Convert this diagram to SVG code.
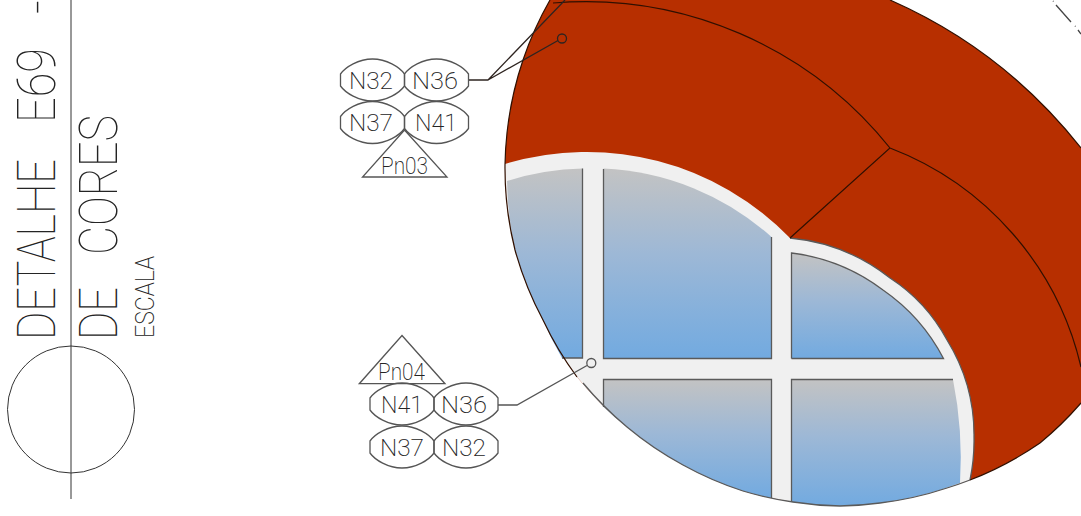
<svg xmlns="http://www.w3.org/2000/svg" width="1081" height="516" viewBox="0 0 1081 516">
<style>
.cad{font-family:"Roboto","Liberation Sans",sans-serif;font-weight:100;fill:#222;opacity:.99}
.tag{font-size:24px;text-anchor:middle;font-weight:200}
.ln{fill:none;stroke:#555;stroke-width:1.3}
.lead{fill:none;stroke:#2e2420;stroke-width:1.3}
.thin{fill:none;stroke:#333;stroke-width:1}
.dk{fill:none;stroke:#301000;stroke-width:1.2}
.pane{fill:url(#glass);stroke:none}
.edge{fill:none;stroke:#5a5a5a;stroke-width:1.3}
</style>
<defs>
<linearGradient id="glass" x1="0" y1="0" x2="0" y2="1"><stop offset="0" stop-color="#c3c3c3"/><stop offset="0.45" stop-color="#9db8d6"/><stop offset="1" stop-color="#72aae0"/></linearGradient>
<path id="lens" class="ln" d="M-32,-6C-27,-13 -14,-21 0,-21C14,-21 27,-13 32,-6L32,6C27,13 14,21 0,21C-14,21 -27,13 -32,6Z"/>
</defs>
<rect width="1081" height="516" fill="#fff"/>
<g id="title">
<line class="thin" x1="71" y1="0" x2="71" y2="499" stroke="#555"/>
<circle class="thin" cx="71" cy="409.500" r="63.500"/>
<text class="cad" transform="translate(55,340) rotate(-90)" font-size="53"><tspan x="0" textLength="181" lengthAdjust="spacingAndGlyphs">DETALHE</tspan><tspan x="217" textLength="75" lengthAdjust="spacingAndGlyphs">E69</tspan><tspan x="326" textLength="14" lengthAdjust="spacingAndGlyphs">-</tspan></text>
<text class="cad" transform="translate(117,340) rotate(-90)" font-size="53"><tspan x="0" textLength="53" lengthAdjust="spacingAndGlyphs">DE</tspan><tspan x="85" textLength="140" lengthAdjust="spacingAndGlyphs">CORES</tspan></text>
<text class="cad" style="font-weight:200" transform="translate(154,338) rotate(-90)" font-size="25" textLength="82" lengthAdjust="spacingAndGlyphs">ESCALA</text>
</g>
<g id="detail">
<path id="roof" fill="#b72f00" d="M550,0A340,340 0 0 0 523,60A340,340 0 0 0 507,133A340,340 0 0 0 505,165A340,340 0 0 0 515,250A340,340 0 0 0 543,320A340,340 0 0 0 577,377A340,340 0 0 0 627,427A340,340 0 0 0 683,465A340,340 0 0 0 743,491A340,340 0 0 0 793,502A340,340 0 0 0 840,506A340,340 0 0 0 880,503A340,340 0 0 0 947,488A340,340 0 0 0 970,480A340,340 0 0 0 1040,443A340,340 0 0 0 1081,403V148A500,500 0 0 0 890,0Z"/>
<path id="frame" fill="#f0f0f0" d="M505,164A283,283 0 0 1 790,238A190,190 0 0 1 890,278A170,170 0 0 1 947,340A180,180 0 0 1 974,437A190,190 0 0 1 970,480A340,340 0 0 1 947,488A340,340 0 0 1 880,503A340,340 0 0 1 840,506A340,340 0 0 1 793,502A340,340 0 0 1 743,491A340,340 0 0 1 683,465A340,340 0 0 1 627,427A340,340 0 0 1 577,377A340,340 0 0 1 543,320A340,340 0 0 1 515,250A340,340 0 0 1 505,165Z"/>
<path id="paneA" class="pane" d="M507,181A268,268 0 0 1 582.500,168.500V358H562A340,340 0 0 1 543,320A340,340 0 0 1 515,250A340,340 0 0 1 507,181Z"/>
<path id="paneB" class="pane" d="M603.500,168.500A269,269 0 0 1 771.500,237V358.500H603.500Z"/>
<path id="paneC" class="pane" d="M791.500,253A190,190 0 0 1 883,290A190,190 0 0 1 943.500,358.500H791.500Z"/>
<path id="paneD" class="pane" d="M791.500,379.500H953A400,400 0 0 1 960,483A340,340 0 0 1 880,503A340,340 0 0 1 840,506A340,340 0 0 1 791.500,502Z"/>
<path id="paneE" class="pane" d="M603.500,379.500H771.500V498A340,340 0 0 1 743,491A340,340 0 0 1 683,465A340,340 0 0 1 627,427A340,340 0 0 1 603.500,407Z"/>
<path class="edge" d="M582.500,168.500V358H562M603.500,169V358.500H771.500V237M603.500,407V379.500H771.500V498M791.500,358.500V253A190,190 0 0 1 883,290A190,190 0 0 1 943.500,358.500H791.500M791.500,502V379.500H953"/>
<path class="edge" d="M790,238A190,190 0 0 1 890,278A170,170 0 0 1 947,340A180,180 0 0 1 974,437A190,190 0 0 1 970,480"/>
<path class="dk" d="M550,0A340,340 0 0 0 523,60A340,340 0 0 0 507,133A340,340 0 0 0 505,165A340,340 0 0 0 515,250A340,340 0 0 0 543,320A340,340 0 0 0 577,377"/>
<path class="edge" d="M583,383A340,340 0 0 0 627,427A340,340 0 0 0 683,465A340,340 0 0 0 743,491A340,340 0 0 0 793,502A340,340 0 0 0 840,506A340,340 0 0 0 880,503A340,340 0 0 0 947,488A340,340 0 0 0 970,480"/>
<path class="dk" d="M970,480A340,340 0 0 0 1040,443A340,340 0 0 0 1081,403M890,0A500,500 0 0 1 1081,148"/>
<path class="dk" d="M553,3A390,390 0 0 1 890,148L790,238M890,148A310,310 0 0 1 1081,367"/>
<path fill="none" stroke="#444" stroke-width="1.300" d="M1056,5L1071,22M1078,30L1081,34M1053,1l.5,.5M1075,26l.5,.5"/>
</g>
<g id="connectors">
<path class="lead" d="M468.500,80H488L565,0M488,80L558,40.500"/>
<circle class="lead" cx="562" cy="38.500" r="4.500"/>
<path class="ln" d="M498,405H517L587,365.500"/>
<circle class="ln" cx="591.300" cy="363" r="4.500"/>
</g>
<g id="Pn03-tag">
<path class="ln" d="M404.500,130L447,177H362.500Z"/>
<text class="cad tag" x="404.500" y="174" font-size="23" textLength="47" lengthAdjust="spacingAndGlyphs">Pn03</text>
</g>
<g id="tag-N32-top"><use href="#lens" x="372.500" y="80"/><text class="cad tag" x="371" y="89" textLength="44" lengthAdjust="spacingAndGlyphs">N32</text></g>
<g id="tag-N36-top"><use href="#lens" x="436.500" y="80"/><text class="cad tag" x="435" y="89" textLength="46" lengthAdjust="spacingAndGlyphs">N36</text></g>
<g id="tag-N37-top"><use href="#lens" x="372.500" y="122.500"/><text class="cad tag" x="371" y="131" textLength="44" lengthAdjust="spacingAndGlyphs">N37</text></g>
<g id="tag-N41-top"><use href="#lens" x="436.500" y="122.500"/><text class="cad tag" x="436" y="131" textLength="42" lengthAdjust="spacingAndGlyphs">N41</text></g>
<g id="Pn04-tag">
<path class="ln" d="M402,335.500L445,383.700H359.300Z"/>
<text class="cad tag" x="401.500" y="380" font-size="23" textLength="47" lengthAdjust="spacingAndGlyphs">Pn04</text>
</g>
<g id="tag-N41-bottom"><use href="#lens" x="402" y="404"/><text class="cad tag" x="402" y="413" textLength="42" lengthAdjust="spacingAndGlyphs">N41</text></g>
<g id="tag-N36-bottom"><use href="#lens" x="466" y="404"/><text class="cad tag" x="464" y="413" textLength="46" lengthAdjust="spacingAndGlyphs">N36</text></g>
<g id="tag-N37-bottom"><use href="#lens" x="402" y="447"/><text class="cad tag" x="402" y="456" textLength="44" lengthAdjust="spacingAndGlyphs">N37</text></g>
<g id="tag-N32-bottom"><use href="#lens" x="466" y="447"/><text class="cad tag" x="464" y="456" textLength="44" lengthAdjust="spacingAndGlyphs">N32</text></g>
</svg>
